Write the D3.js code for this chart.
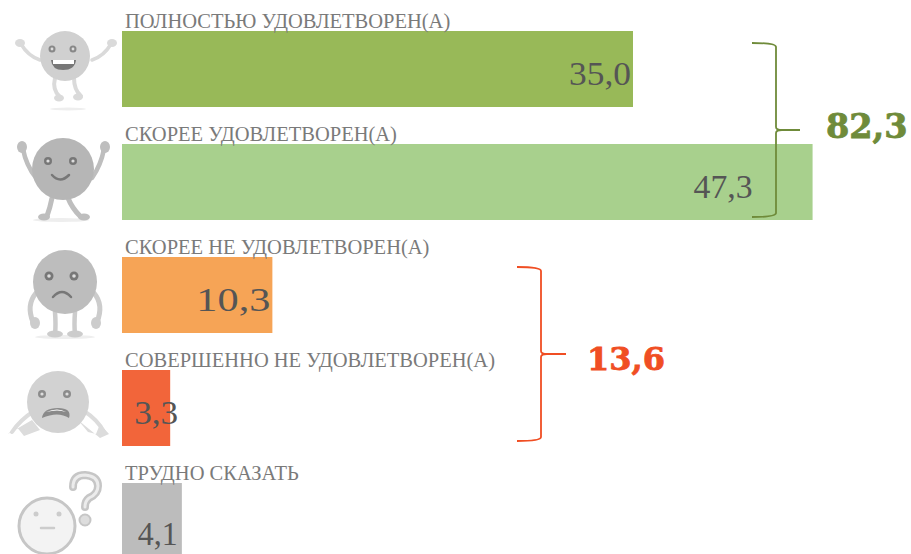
<!DOCTYPE html>
<html><head><meta charset="utf-8">
<script src="https://cdn.jsdelivr.net/npm/d3@7/dist/d3.min.js"></script>
<style>html,body{margin:0;padding:0;background:#fff;overflow:hidden}svg{display:block}</style>
</head><body><div id="c"></div>
<script>
const categories = ["ПОЛНОСТЬЮ УДОВЛЕТВОРЕН(А)","СКОРЕЕ УДОВЛЕТВОРЕН(А)","СКОРЕЕ НЕ УДОВЛЕТВОРЕН(А)","СОВЕРШЕННО НЕ УДОВЛЕТВОРЕН(А)","ТРУДНО СКАЗАТЬ"];
const values = [35.0,47.3,10.3,3.3,4.1];
const colors = ["#98b958","#a8d08d","#f6a456","#f2653a","#bcbcbc"];
const totals = [82.3,13.6];
const totalColors = ["#6f8b3a","#f04e23"];

const W=911,H=554;
const fmt=v=>v.toFixed(1).replace(".",",");
const svg=d3.select("#c").append("svg").attr("width",W).attr("height",H);
const x=d3.scaleLinear().domain([0,50]).range([122,852]);
const y=d3.scaleBand().domain(categories).range([31,559]).paddingInner(37/113).paddingOuter(0);
const serif="'Liberation Serif','DejaVu Serif',serif";

svg.append("defs").append("filter").attr("id","soft").append("feGaussianBlur").attr("stdDeviation",0.55);
// icons
const ic=svg.append("g").attr("filter","url(#soft)");
const limb=(d,c,w)=>ic.append("path").attr("d",d).attr("fill","none").attr("stroke",c).attr("stroke-width",w).attr("stroke-linecap","round").attr("stroke-linejoin","round");
const circ=(cx,cy,r,f,o={})=>ic.append("circle").attr("cx",cx).attr("cy",cy).attr("r",r).attr("fill",f).attr("stroke",o.s||"none").attr("stroke-width",o.w||0);
const ell=(cx,cy,rx,ry,f)=>ic.append("ellipse").attr("cx",cx).attr("cy",cy).attr("rx",rx).attr("ry",ry).attr("fill",f);
const eye=(cx,cy,r,f)=>{circ(cx,cy,r,f);circ(cx,cy,r*.4,"#ddd");};
const fill=(d,f)=>ic.append("path").attr("d",d).attr("fill",f);

// 1 jumping
ell(68,109,18,1.5,"#eee");
let c="#dadada";
limb("M40,60 Q28,56 21,44",c,3.5);limb("M92,60 Q104,56 111,44",c,3.5);
limb("M55,78 Q52,90 60,97",c,4);limb("M74,78 Q74,90 81,96",c,4);
ell(20,43,5,4,c);ell(112,43,5,4,c);ell(59,98,5,3.5,c);ell(78,97,5,3.5,c);
circ(65,56,25,"#d0d0d0");
eye(52,49,3.5,"#888");eye(73,49,3.5,"#888");
fill("M51,60 H76 Q75,70 63,70 Q52,70 51,60Z","#777");fill("M53,60 H74 V64 H53Z","#fff");

// 2 cheering
ell(61,220,28,2,"#eee");c="#bebebe";
limb("M36,178 Q26,165 23,149",c,4.5);limb("M92,178 Q101,165 104,149",c,4.5);
ell(22,147,5,6,c);ell(105,147,5,6,c);
limb("M52,198 Q50,208 47,216",c,5);limb("M68,198 Q72,208 80,216",c,5);
ell(44,217,6,3.5,c);ell(84,217,6,3.5,c);
circ(63,169,31,"#b6b6b6");
eye(48,161,4,"#777");eye(73,161,4,"#777");
limb("M52,175 Q60,184 69,175","#777",2.5);

// 3 sad
ell(65,337,30,2,"#eee");c="#cccccc";
limb("M36,293 Q26,305 33,322",c,5);limb("M94,293 Q104,305 97,322",c,5);
ell(35,323,5,6,c);ell(96,323,5,6,c);
limb("M55,312 Q56,325 55,334",c,4.5);limb("M75,312 Q74,325 75,334",c,4.5);
ell(55,334,8,3.5,c);ell(75,334,8,3.5,c);
circ(65,282,32,"#bdbdbd");
eye(49,276,4.5,"#777");eye(74,276,4.5,"#777");
limb("M53,297 Q62,287 71,297","#777",2.5);

// 4 collapsed
c="#dcdcdc";
limb("M34,411 Q20,420 12,432",c,4);limb("M84,411 Q98,420 104,432",c,4);
fill("M8,434 L16,426 L24,436 L40,430 L32,420Z",c);fill("M78,420 L88,432 L96,434 L100,424 L109,434 L100,438Z",c);
circ(58,402,31,"#d2d2d2");
eye(42,394,4,"#8c8c8c");eye(67,394,4,"#8c8c8c");
fill("M42,418 Q43,408 58,408 Q72,408 69,418 Q58,411 42,418Z","#8a8a8a");fill("M46,412 Q58,407 66,412 Q58,409 46,412Z","#fff");

// 5 question
circ(47,526,28,"#f3f3f3",{s:"#c6c6c6",w:3});
circ(36,514,2.5,"#ccc");circ(59,514,2.5,"#ccc");
limb("M41,528 H54","#ccc",2.5);
limb("M73,487 Q73,475 85,475 Q98,476 98,486 Q98,494 89,498 Q85,501 85,507","#c6c6c6",8);
limb("M73,487 Q73,475 85,475 Q98,476 98,486 Q98,494 89,498 Q85,501 85,507","#ececec",3);
circ(85,520,5.5,"#ddd",{s:"#c6c6c6",w:2});

// bars
svg.append("g").selectAll("rect").data(categories).join("rect")
  .attr("x",x(0)).attr("y",d=>y(d)).attr("height",y.bandwidth())
  .attr("width",(d,i)=>x(values[i])-x(0)).attr("fill",(d,i)=>colors[i]);

// category labels
svg.append("g").selectAll("text").data(categories).join("text")
  .attr("x",125).attr("y",d=>y(d)-3).text(d=>d)
  .attr("font-family",serif).attr("font-size",20.5).attr("fill","#7a7a7a");

// value labels
const endShift=[-2,-60,-2,8,-4];
const baseShift=[54,54,54,54,62];
const labelLength=[62,59,74,44,40];
svg.append("g").selectAll("text").data(values).join("text")
  .attr("x",(v,i)=>x(v)+endShift[i]).attr("y",(v,i)=>y(categories[i])+baseShift[i])
  .attr("text-anchor","end").text(fmt)
  .attr("textLength",(v,i)=>labelLength[i]).attr("lengthAdjust","spacingAndGlyphs")
  .attr("font-family",serif).attr("font-size",33).attr("fill","#555");

// braces
function brace(x0,x1,tip,top,bot,col){
  const m=(top+bot)/2;
  svg.append("path").attr("fill","none").attr("stroke",col).attr("stroke-width",1.8)
   .attr("d",`M${x0},${top} Q${x1},${top} ${x1},${top+4} V${m-3} Q${x1},${m} ${x1+6},${m} H${tip} M${x1+6},${m} Q${x1},${m} ${x1},${m+3} V${bot-4} Q${x1},${bot} ${x0},${bot}`);
}
brace(752,776,800,43,217,totalColors[0]);
brace(517,541,566,267,441,totalColors[1]);

// totals
const tot=[[826,138],[587,370]];
svg.append("g").selectAll("text").data(totals).join("text")
  .attr("x",(t,i)=>tot[i][0]).attr("y",(t,i)=>tot[i][1]).text(fmt)
  .attr("font-family","'DejaVu Serif',serif").attr("font-weight","bold").attr("font-size",(t,i)=>i?32:33.5)
  .attr("fill",(t,i)=>totalColors[i]).attr("stroke",(t,i)=>totalColors[i]).attr("stroke-width",0.8);
</script></body></html>
